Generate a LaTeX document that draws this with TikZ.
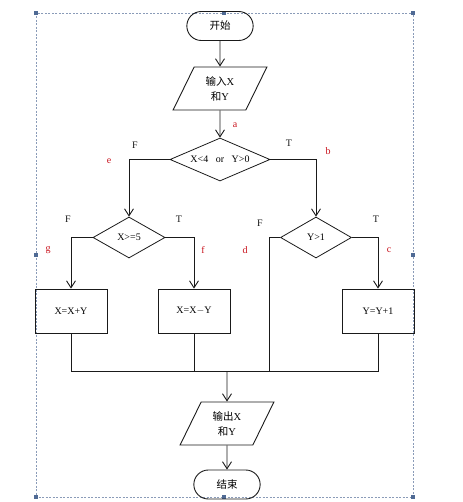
\documentclass[tikz,border=0pt]{standalone}
\usepackage{fontspec}
\setmainfont{Liberation Serif}
\newfontfamily\cjk{Noto Sans CJK SC}
\usetikzlibrary{arrows.meta,positioning,shapes.geometric,shapes.misc}
\definecolor{ink}{HTML}{1A1A1A}
\definecolor{tagred}{HTML}{C8101A}
\definecolor{selframe}{HTML}{8A9BB8}
\definecolor{handle}{HTML}{4F6A94}

\tikzset{
  terminal/.style={draw=ink,line width=0.9pt,rounded rectangle,minimum width=73pt,
                   minimum height=29pt,font=\cjk\fontsize{10.5}{12}\selectfont},
  iobox/.style={draw=ink,line width=0.9pt,trapezium,trapezium left angle=65,
                trapezium right angle=115,trapezium stretches=true,
                minimum width=94pt,minimum height=43pt,inner sep=1pt,align=center,
                font=\fontsize{10.5}{15}\selectfont},
  decision/.style={draw=ink,line width=0.8pt,diamond,aspect=2.3,inner sep=0pt,
                   font=\fontsize{10}{11}\selectfont},
  procbox/.style={draw=ink,line width=0.8pt,rectangle,minimum width=72pt,
                  minimum height=44pt,font=\fontsize{10}{11}\selectfont},
  branch/.style={font=\fontsize{10}{11}\selectfont,text=ink},
  tag/.style={font=\fontsize{10}{11}\selectfont,text=tagred},
  link/.style={draw=ink,line width=0.9pt},
  arr/.style={link,-{Straight Barb[length=7pt,width=9pt]}},
}

\begin{document}
\begin{tikzpicture}[x=1pt,y=-1pt]
  \useasboundingbox (0,0) rectangle (462,502);

  % selection frame
  \draw[selframe,line width=0.6pt,dash pattern=on 2pt off 1.5pt] (36,13) rectangle (413,497);
  \foreach \hx/\hy in {36/13,224/13,413/13,36/255,413/255,36/497,224/497,413/497}
    \fill[handle] (\hx,\hy) ++(-2,-2) rectangle ++(4,4);

  % nodes
  \node[terminal] (start) at (220,26) {开始};
  \node[iobox] (inp) at (220,88.5) {{\cjk 输入}X\\{\cjk 和}Y};
  \node[decision,minimum width=100pt,minimum height=43pt] (cond) at (220,159.5) {X<4\ \ \ or\ \ \ Y>0};
  \node[decision,minimum width=72pt,minimum height=41pt] (condx) at (129,237.5) {X>=5};
  \node[decision,minimum width=71pt,minimum height=41pt] (condy) at (316,237.5) {Y>1};
  \node[procbox] (addxy) at (71,311) {X=X+Y};
  \node[procbox] (subxy) at (194,311) {X=X$-$Y};
  \node[procbox] (incy) at (378,311) {Y=Y+1};
  \node[iobox] (outp) at (227,423.5) {{\cjk 输出}X\\{\cjk 和}Y};
  \node[terminal] (stop) at (227,484.5) {结束};
  \coordinate (join) at (227,371);

  % branch labels
  \node[branch] (f1) at (135,145) {F};
  \node[branch] (t1) at (289,143) {T};
  \node[branch] (f2) at (68,219) {F};
  \node[branch] (t2) at (179,219) {T};
  \node[branch] (f3) at (260,223) {F};
  \node[branch] (t3) at (376,219) {T};

  % path tags
  \node[tag] (taga) at (235,125) {a};
  \node[tag] (tagb) at (328,151) {b};
  \node[tag] (tagc) at (389,250) {c};
  \node[tag] (tagd) at (245,250) {d};
  \node[tag] (tage) at (109,161) {e};
  \node[tag] (tagf) at (203,250) {f};
  \node[tag] (tagg) at (48,250) {g};

  % connectors
  \draw[arr] (start) -- (inp);
  \draw[arr] (inp) -- (cond);
  \draw[arr] (cond.west) -| (condx.north);
  \draw[arr] (cond.east) -| (condy.north);
  \draw[arr] (condx.west) -| (addxy.north);
  \draw[arr] (condx.east) -| (subxy.north);
  \draw[arr] (condy.east) -| (incy.north);
  \draw[link] (condy.west) -- ++(-11,0) |- (join);
  \draw[link] (addxy.south) |- (join);
  \draw[link] (subxy.south) |- (join);
  \draw[link] (incy.south) |- (join);
  \draw[arr] (join) -- (outp);
  \draw[arr] (outp) -- (stop);
\end{tikzpicture}
\end{document}
